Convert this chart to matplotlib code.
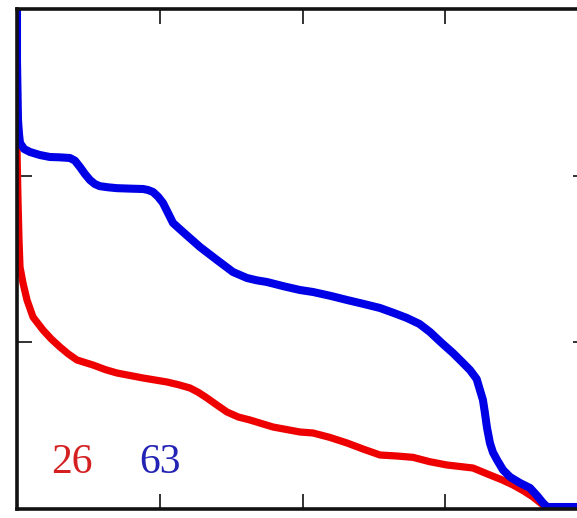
import numpy as np
import matplotlib
matplotlib.use("Agg")
import matplotlib.pyplot as plt

# values (x in 0..4, y in 0..3)
blueX = [0.0, 0.0, 0.007, 0.014, 0.021, 0.05, 0.091, 0.16, 0.231, 0.30, 0.371, 0.406, 0.441,
         0.476, 0.511, 0.545, 0.58, 0.64, 0.70, 0.80, 0.883, 0.918, 0.953, 0.988, 1.023,
         1.058, 1.093, 1.163, 1.282, 1.401, 1.513, 1.611, 1.68, 1.751, 1.87, 1.982, 2.074,
         2.20, 2.312, 2.43, 2.543, 2.64, 2.732, 2.82, 2.893, 2.97, 3.054, 3.12, 3.173, 3.22,
         3.243, 3.264, 3.278, 3.292, 3.313, 3.334, 3.363, 3.405, 3.454, 3.524, 3.594,
         3.643, 3.685, 3.713, 4.0]
blueY = [3.05, 2.693, 2.334, 2.25, 2.196, 2.16, 2.142, 2.124, 2.112, 2.11, 2.106, 2.09,
         2.052, 2.01, 1.974, 1.95, 1.937, 1.93, 1.925, 1.922, 1.92, 1.914, 1.902, 1.874,
         1.836, 1.776, 1.716, 1.662, 1.572, 1.494, 1.422, 1.386, 1.372, 1.362, 1.336,
         1.314, 1.302, 1.278, 1.254, 1.23, 1.206, 1.176, 1.146, 1.11, 1.062, 1.00, 0.936,
         0.88, 0.834, 0.78, 0.714, 0.654, 0.576, 0.49, 0.396, 0.34, 0.294, 0.234, 0.192,
         0.156, 0.126, 0.08, 0.036, 0.012, 0.012]

redX = [0.0, 0.007, 0.014, 0.021, 0.042, 0.07, 0.112, 0.182, 0.24, 0.301, 0.36, 0.42,
        0.532, 0.62, 0.70, 0.883, 1.051, 1.13, 1.212, 1.27, 1.331, 1.40, 1.471, 1.55,
        1.632, 1.793, 1.982, 2.074, 2.19, 2.312, 2.43, 2.543, 2.66, 2.774, 2.89, 3.012,
        3.194, 3.313, 3.40, 3.475, 3.55, 3.615, 3.685, 3.734, 4.0]
redY = [2.154, 1.854, 1.614, 1.452, 1.356, 1.254, 1.152, 1.074, 1.02, 0.972, 0.93, 0.894,
        0.864, 0.836, 0.816, 0.786, 0.762, 0.746, 0.726, 0.70, 0.666, 0.624, 0.582, 0.552,
        0.534, 0.492, 0.462, 0.456, 0.43, 0.396, 0.358, 0.324, 0.318, 0.31, 0.284, 0.264,
        0.246, 0.204, 0.174, 0.144, 0.108, 0.072, 0.024, 0.012, 0.012]

redLabel = "26"
blueLabel = "63"

W, H = 577, 518
fig = plt.figure(figsize=(W / 100, H / 100), dpi=100)
# axes reaches past the right edge of the picture, as in the reference
ax = fig.add_axes([17 / W, 9 / H, 571 / W, 500 / H])

ax.plot(redX, redY, color="#ee0000", lw=5.2, solid_capstyle="round",
        solid_joinstyle="round")
ax.plot(blueX, blueY, color="#0000e6", lw=5.8, solid_capstyle="round",
        solid_joinstyle="round")

ax.text(0.385, 0.28, redLabel, color="#d42020", fontsize=30,
        family="Liberation Serif", ha="center", va="center")
ax.text(1.0, 0.28, blueLabel, color="#2424b4", fontsize=30,
        family="Liberation Serif", ha="center", va="center")

ax.set_xlim(0, 4)
ax.set_ylim(0, 3)
ax.set_xticks([1, 2, 3])
ax.set_yticks([1, 2])
ax.tick_params(direction="in", length=11, width=1.3, top=True, right=True,
               labelbottom=False, labelleft=False, colors="#222222")
for s in ax.spines.values():
    s.set_linewidth(2.6)
    s.set_color("#111111")

fig.savefig("out.png", dpi=100)
